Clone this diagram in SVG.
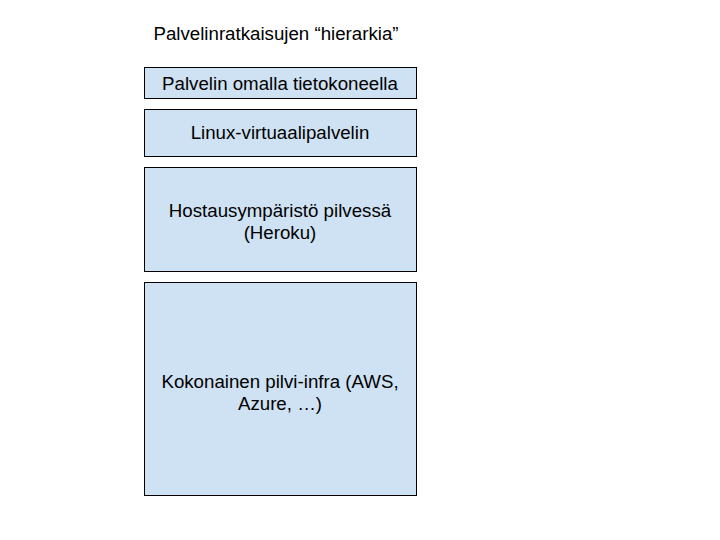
<svg xmlns="http://www.w3.org/2000/svg" width="720" height="540" viewBox="0 0 720 540">
<style>
.box{fill:#cfe2f3;stroke:#000;stroke-width:1}
text{font-family:"Liberation Sans",Arial,sans-serif;font-size:18.7px;fill:#000;text-anchor:middle}
</style>
<rect width="720" height="540" fill="#fff"/>
<g id="title"><text x="276" y="40">Palvelinratkaisujen “hierarkia”</text></g>
<g id="n1"><rect class="box" x="144.5" y="67.5" width="272" height="31"/><text x="280" y="90">Palvelin omalla tietokoneella</text></g>
<g id="n2"><rect class="box" x="144.5" y="109.5" width="272" height="47"/><text x="280" y="139">Linux-virtuaalipalvelin</text></g>
<g id="n3"><rect class="box" x="144.5" y="167.5" width="272" height="104"/><text x="280" y="217">Hostausympäristö pilvessä</text><text x="280" y="239">(Heroku)</text></g>
<g id="n4"><rect class="box" x="144.5" y="282.5" width="272" height="213"/><text x="280" y="388">Kokonainen pilvi-infra (AWS,</text><text x="280" y="410">Azure, …)</text></g>
<g id="connectors"/>
</svg>
